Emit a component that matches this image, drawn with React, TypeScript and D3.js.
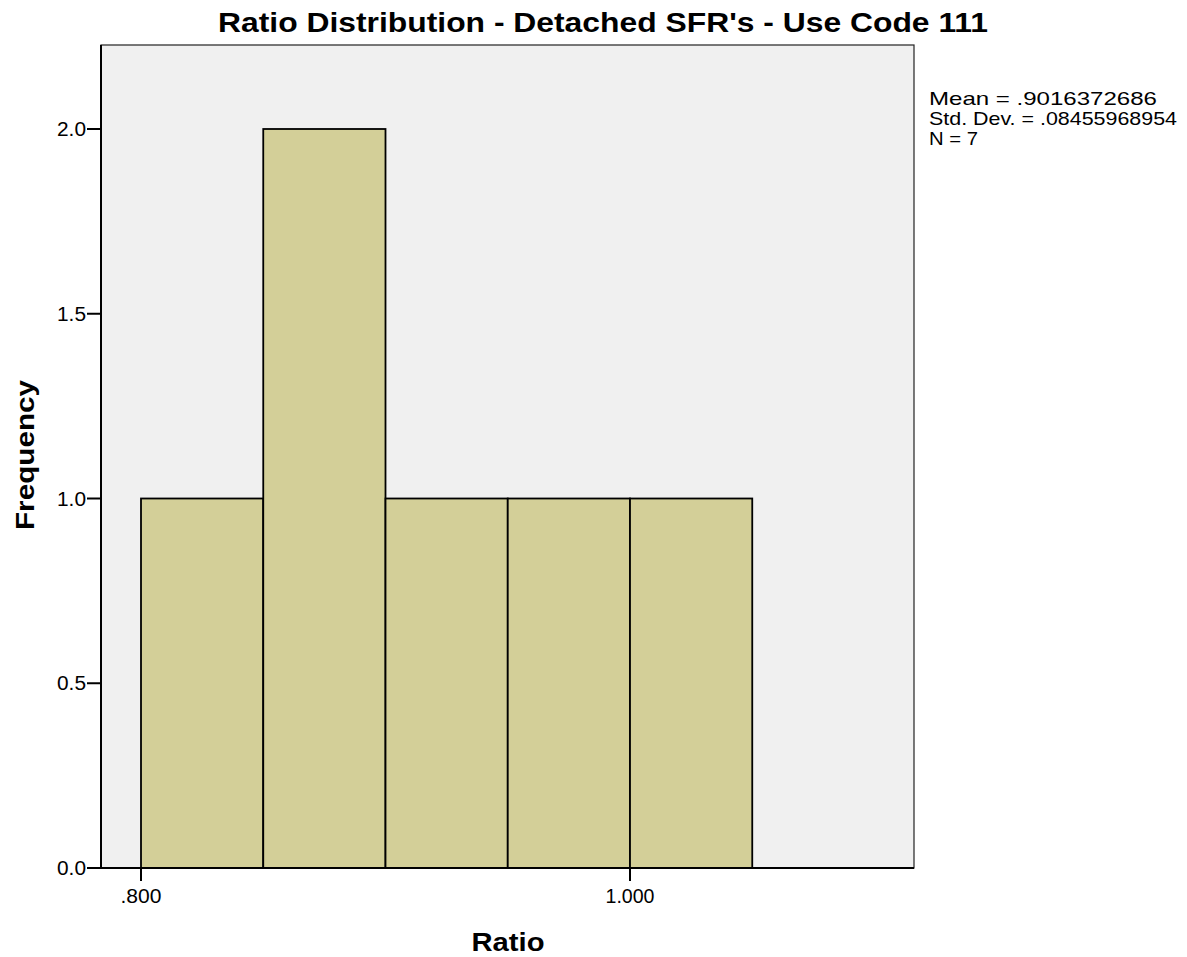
import React from "react";
import * as d3 from "d3";

const binStarts = [0.8, 0.85, 0.9, 0.95, 1.0];
const binWidth = 0.05;
const counts = [1, 2, 1, 1, 1];
const yTicks = [0, 0.5, 1.0, 1.5, 2.0];
const xTicks = [0.8, 1.0];
const xTickLabels = [".800", "1.000"];
const statsLines = ["Mean = .9016372686", "Std. Dev. = .08455968954", "N = 7"];
const statsWidths = [228, 248, 49];
const title = "Ratio Distribution - Detached SFR's - Use Code 111";

export default function App() {
  const W = 1187, H = 957;
  const left = 101, right = 914, top = 45, bottom = 868;
  const x = d3.scaleLinear().domain([0.8, 1.0]).range([141, 630]);
  const y = d3.scaleLinear().domain([0, 2]).range([bottom, 129]);
  const font = "'Liberation Sans', Arial, sans-serif";
  const adj = "spacingAndGlyphs";
  return (
    <svg width={W} height={H} style={{ position: "absolute", left: 0, top: 0 }} fontFamily={font}>
      <rect width={W} height={H} fill="#fff" />
      <rect x={left} y={top} width={right - left} height={bottom - top} fill="#f0f0f0" stroke="#222" strokeWidth={1.2} />
      {counts.map((c, i) => (
        <rect key={i} x={x(binStarts[i])} y={y(c)} width={x(binStarts[i] + binWidth) - x(binStarts[i])} height={bottom - y(c)}
          fill="#d3cf98" stroke="#000" strokeWidth={1.8} />
      ))}
      <line x1={left} x2={left} y1={top} y2={bottom + 1} stroke="#000" strokeWidth={2} />
      <line x1={left - 1} x2={right} y1={bottom} y2={bottom} stroke="#000" strokeWidth={2} />
      {yTicks.map((t) => (
        <g key={t}>
          <line x1={left - 14} x2={left} y1={y(t)} y2={y(t)} stroke="#000" strokeWidth={2} />
          <text x={left - 15} y={y(t) + 7} textAnchor="end" fontSize={19.5} textLength={29} lengthAdjust={adj}>{t.toFixed(1)}</text>
        </g>
      ))}
      {xTicks.map((t, i) => (
        <g key={t}>
          <line x1={x(t)} x2={x(t)} y1={bottom} y2={bottom + 13} stroke="#000" strokeWidth={2} />
          <text x={x(t)} y={903} textAnchor="middle" fontSize={19.5} textLength={i === 0 ? 41 : 49} lengthAdjust={adj}>{xTickLabels[i]}</text>
        </g>
      ))}
      <text x={603} y={32} textAnchor="middle" fontSize={28} fontWeight="bold" textLength={770} lengthAdjust={adj}>{title}</text>
      <text x={508} y={951} textAnchor="middle" fontSize={26} fontWeight="bold" textLength={73} lengthAdjust={adj}>Ratio</text>
      <text transform={`translate(34,455) rotate(-90)`} textAnchor="middle" fontSize={26} fontWeight="bold" textLength={150} lengthAdjust={adj}>Frequency</text>
      {statsLines.map((s, i) => (
        <text key={i} x={929} y={105 + i * 20} fontSize={18.5} textLength={statsWidths[i]} lengthAdjust={adj}>{s}</text>
      ))}
    </svg>
  );
}
